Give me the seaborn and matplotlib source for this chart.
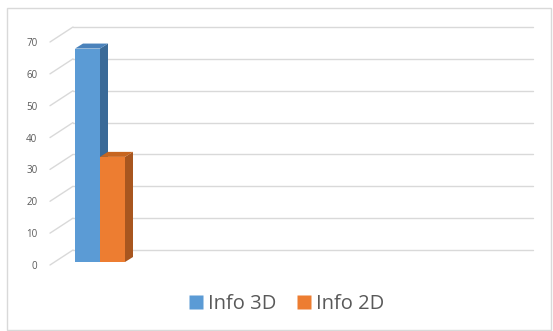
import numpy as np
import pandas as pd
import matplotlib.pyplot as plt
import matplotlib.transforms as mtransforms
from matplotlib.patches import Polygon, Rectangle
from matplotlib.lines import Line2D
import seaborn as sns

# data
categories = ['Cat 1']
series = ['Info 3D', 'Info 2D']
values = [67, 33]
y_ticks = [0, 10, 20, 30, 40, 50, 60, 70]

front_cols = ['#5B9BD5', '#ED7D31']
side_cols = ['#3A6A98', '#A8561F']
top_cols = ['#4A82BB', '#C7651F']
grey = '#595959'
grid_col = '#D9D9D9'

sns.set_style('white')
plt.rcParams['font.family'] = ['Open Sans', 'DejaVu Sans']

df = pd.DataFrame({'cat': categories * len(series), 'series': series, 'value': values})

fig = plt.figure(figsize=(5.53, 3.31), dpi=100)
W, H = 553, 331
# front plane of the 3d box, in pixels
left, right, y0, y70 = 50, 510, 265, 42
ax = fig.add_axes([left / W, (H - y0) / H, (right - left) / W, (y0 - y70) / H])

sns.barplot(data=df, x='cat', y='value', hue='series', palette=front_cols,
            saturation=1, width=0.8, ax=ax, legend=False, zorder=3)

px_per_x = 62.5  # bar of width 0.4 -> 25 px
x_lo = -(100 - 4.6 - left) / px_per_x
x_hi = x_lo + (right - left) / px_per_x
px_per_y = (y0 - y70) / 70.0

# depth of the box (back wall offset) and of the bars
depth_dx, depth_dy = 23 / px_per_x, 15 / px_per_y
bar_dx, bar_dy = 8 / px_per_x, 5 / px_per_y
bar_shift = mtransforms.ScaledTranslation(4.6 / 100, 3 / 100, fig.dpi_scale_trans)

# back wall gridlines + diagonals to the front plane
for v in y_ticks:
    ax.plot([x_lo, x_lo + depth_dx], [v, v + depth_dy], color=grid_col, lw=1,
            clip_on=False, zorder=1)
    ax.plot([x_lo + depth_dx, x_hi + depth_dx], [v + depth_dy, v + depth_dy],
            color=grid_col, lw=1, clip_on=False, zorder=1)

# 3d faces of the bars
for i, p in enumerate(ax.patches[:len(series)]):
    x0, w, h = p.get_x(), p.get_width(), p.get_height()
    x1 = x0 + w
    p.set_transform(ax.transData + bar_shift)
    p.set_clip_on(False)
    p.set_edgecolor('none')
    side = Polygon([[x1, 0], [x1 + bar_dx, bar_dy], [x1 + bar_dx, h + bar_dy], [x1, h]],
                   closed=True, facecolor=side_cols[i], edgecolor='none',
                   transform=ax.transData + bar_shift, clip_on=False, zorder=2)
    top = Polygon([[x0, h], [x0 + bar_dx, h + bar_dy], [x1 + bar_dx, h + bar_dy], [x1, h]],
                  closed=True, facecolor=top_cols[i], edgecolor='none',
                  transform=ax.transData + bar_shift, clip_on=False, zorder=4)
    ax.add_patch(side)
    ax.add_patch(top)

ax.set_xlim(x_lo, x_hi)
ax.set_ylim(0, 70)
ax.set_yticks(y_ticks)
ax.set_yticklabels([str(t) for t in y_ticks], color=grey, fontsize=7)
ax.set_xticks([])
ax.tick_params(axis='y', length=0, pad=9)
ax.set_xlabel('')
ax.set_ylabel('')
sns.despine(ax=ax, left=True, bottom=True)
ax.patch.set_alpha(0)

# legend
handles = [Line2D([], [], marker='s', linestyle='none', markersize=9.4,
                  markerfacecolor=c, markeredgecolor='none') for c in front_cols]
fig.legend(handles, series, loc='center', bbox_to_anchor=(286 / W, 1 - 304 / H),
           ncol=2, frameon=False, fontsize=14.5, labelcolor=grey,
           handletextpad=0.2, columnspacing=1.0, handlelength=0.8)

# chart border
fig.add_artist(Rectangle((7 / W, 1 / H), 544 / W, 322 / H, transform=fig.transFigure,
                         fill=False, edgecolor=grid_col, lw=1))

fig.savefig('out.png', dpi=100)
